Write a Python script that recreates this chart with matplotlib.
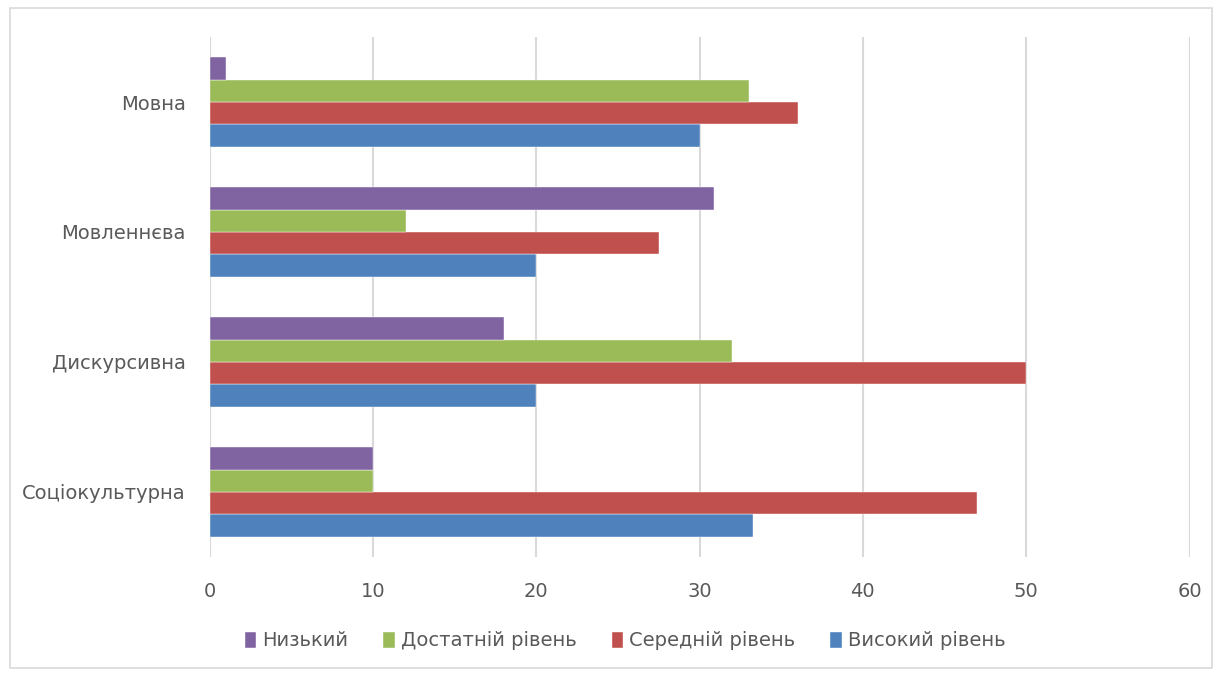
import numpy as np
import matplotlib.pyplot as plt
from matplotlib.patches import Rectangle

plt.rcParams['font.family'] = ['Liberation Sans Narrow', 'DejaVu Sans']

categories = ['Соціокультурна', 'Дискурсивна', 'Мовленнєва', 'Мовна']
series_names = ['Високий рівень', 'Середній рівень', 'Достатній рівень', 'Низький']
vysokyi = [33.3, 20, 20, 30]
serednii = [47, 50, 27.5, 36]
dostatnii = [10, 32, 12, 33]
nyzkyi = [10, 18, 30.9, 1]
colors = ['#4F81BD', '#C0504D', '#9BBB59', '#8064A2']

fig = plt.figure(figsize=(12.22, 6.74), dpi=100)
ax = fig.add_axes([209.5 / 1222, 1 - 557 / 674, 980 / 1222, 520 / 674])

# chart frame
fig.patches.append(Rectangle((10 / 1222, 6 / 674), 1202 / 1222, 660 / 674,
                             transform=fig.transFigure, fill=False,
                             edgecolor='#d9d9d9', linewidth=1.2))

y = np.arange(len(categories))
h = 0.173
for i, (name, vals) in enumerate(zip(series_names, [vysokyi, serednii, dostatnii, nyzkyi])):
    ax.barh(y + (i - 1.5) * h, vals, height=h, color=colors[i], label=name,
            edgecolor='white', linewidth=0.3, zorder=3)

ax.set_xlim(0, 60)
ax.set_ylim(-0.5, len(categories) - 0.5)
ax.set_xticks(range(0, 61, 10))
ax.set_yticks(y)
ax.set_yticklabels(categories)
ax.grid(axis='x', color='#d9d9d9', linewidth=1.5, zorder=0)
for s in ax.spines.values():
    s.set_visible(False)
ax.tick_params(length=0, labelsize=14, colors='#595959')
ax.tick_params(axis='x', pad=18)
ax.tick_params(axis='y', pad=17)

handles, labels = ax.get_legend_handles_labels()
fig.legend(handles[::-1], labels[::-1], loc='center', bbox_to_anchor=(625 / 1222, 1 - 641 / 674),
           ncol=4, frameon=False, fontsize=14, labelcolor='#595959',
           handlelength=0.6, handleheight=0.9, handletextpad=0.3, columnspacing=1.8)

fig.savefig('out.png', dpi=100)
